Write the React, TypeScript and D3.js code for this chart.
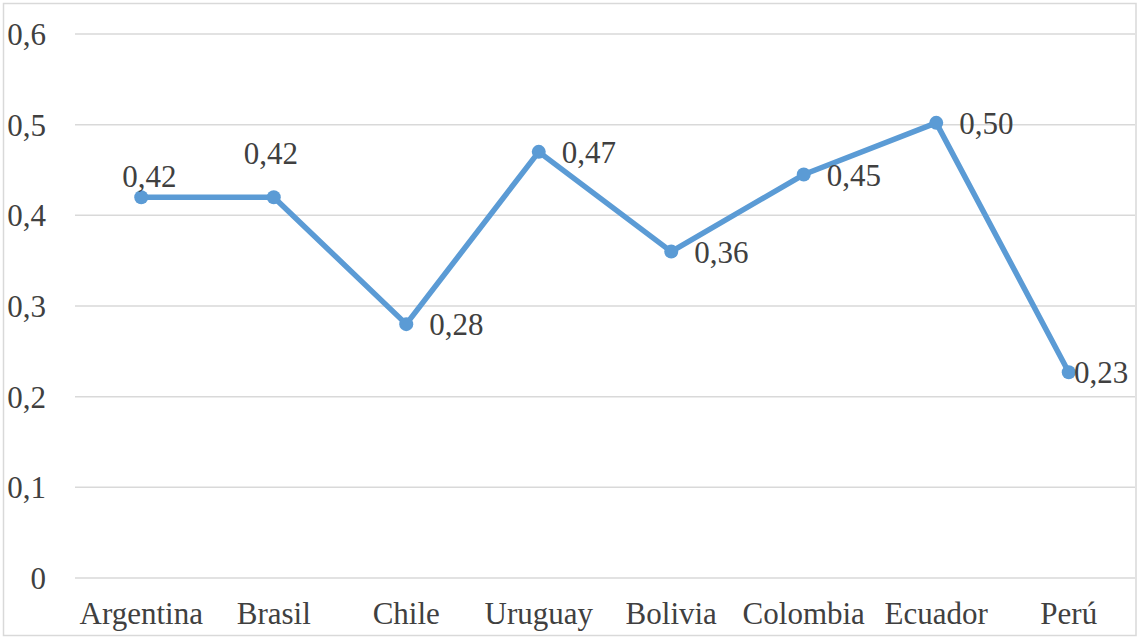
import { useEffect } from "react";
import * as d3 from "d3";

const paises = ["Argentina", "Brasil", "Chile", "Uruguay", "Bolivia", "Colombia", "Ecuador", "Perú"];
const valores = [0.42, 0.42, 0.28, 0.47, 0.36, 0.445, 0.502, 0.227];
const etiquetas = ["0,42", "0,42", "0,28", "0,47", "0,36", "0,45", "0,50", "0,23"];
// dónde va cada etiqueta respecto a su punto
const ubicaciones = ["arriba", "arriba-alto", "derecha", "derecha", "derecha", "derecha", "derecha", "derecha"];
const ticksY = [0, 0.1, 0.2, 0.3, 0.4, 0.5, 0.6];

const ANCHO = 1138;
const ALTO = 637;
const FUENTE = "Liberation Serif, Tinos, Times New Roman, serif";
const AZUL = "#5B9BD5";
const TEXTO = "#404040";
const TAM = 31;

export default function App() {
  useEffect(() => {
    document.body.style.margin = "0";
  }, []);

  const x = d3.scaleBand<string>().domain(paises).range([75, 1135]);
  const y = d3.scaleLinear().domain([0, 0.6]).range([578, 34]);
  const cx = (p: string) => (x(p) || 0) + x.bandwidth() / 2;

  const puntos = paises.map((p, i) => ({ pais: p, valor: valores[i], texto: etiquetas[i], donde: ubicaciones[i] }));

  const linea = d3
    .line<(typeof puntos)[number]>()
    .x((d) => cx(d.pais))
    .y((d) => y(d.valor));

  const formatoY = (v: number) => (v === 0 ? "0" : d3.format(".1f")(v).replace(".", ","));

  return (
    <svg width={ANCHO} height={ALTO} style={{ display: "block", background: "#fff", fontFamily: FUENTE }}>
      <rect x={3.5} y={3.5} width={1132.5} height={632} fill="#fff" stroke="#D9D9D9" strokeWidth={1.5} />

      {ticksY.map((t) => (
        <g key={t}>
          <line x1={75} x2={1135} y1={y(t)} y2={y(t)} stroke="#D9D9D9" strokeWidth={1.5} />
          <text x={46} y={y(t)} dy="0.35em" textAnchor="end" fontSize={TAM} fill={TEXTO}>
            {formatoY(t)}
          </text>
        </g>
      ))}

      {paises.map((p) => (
        <text key={p} x={cx(p)} y={624} textAnchor="middle" fontSize={TAM} fill={TEXTO}>
          {p}
        </text>
      ))}

      <path d={linea(puntos) || ""} fill="none" stroke={AZUL} strokeWidth={5.5} strokeLinejoin="round" strokeLinecap="round" />

      {puntos.map((d) => (
        <circle key={d.pais} cx={cx(d.pais)} cy={y(d.valor)} r={7} fill={AZUL} />
      ))}

      {puntos.map((d) => {
        const px = cx(d.pais);
        const py = y(d.valor);
        if (d.donde === "arriba") {
          return (
            <text key={d.pais} x={px + 8} y={py - 10} textAnchor="middle" fontSize={TAM} fill={TEXTO}>
              {d.texto}
            </text>
          );
        }
        if (d.donde === "arriba-alto") {
          return (
            <text key={d.pais} x={px - 3} y={py - 33} textAnchor="middle" fontSize={TAM} fill={TEXTO}>
              {d.texto}
            </text>
          );
        }
        // a la derecha, sin salirse del marco
        const inicio = Math.min(px + 23, 1128 - 54);
        return (
          <text key={d.pais} x={inicio} y={py + 11} textAnchor="start" fontSize={TAM} fill={TEXTO}>
            {d.texto}
          </text>
        );
      })}
    </svg>
  );
}
